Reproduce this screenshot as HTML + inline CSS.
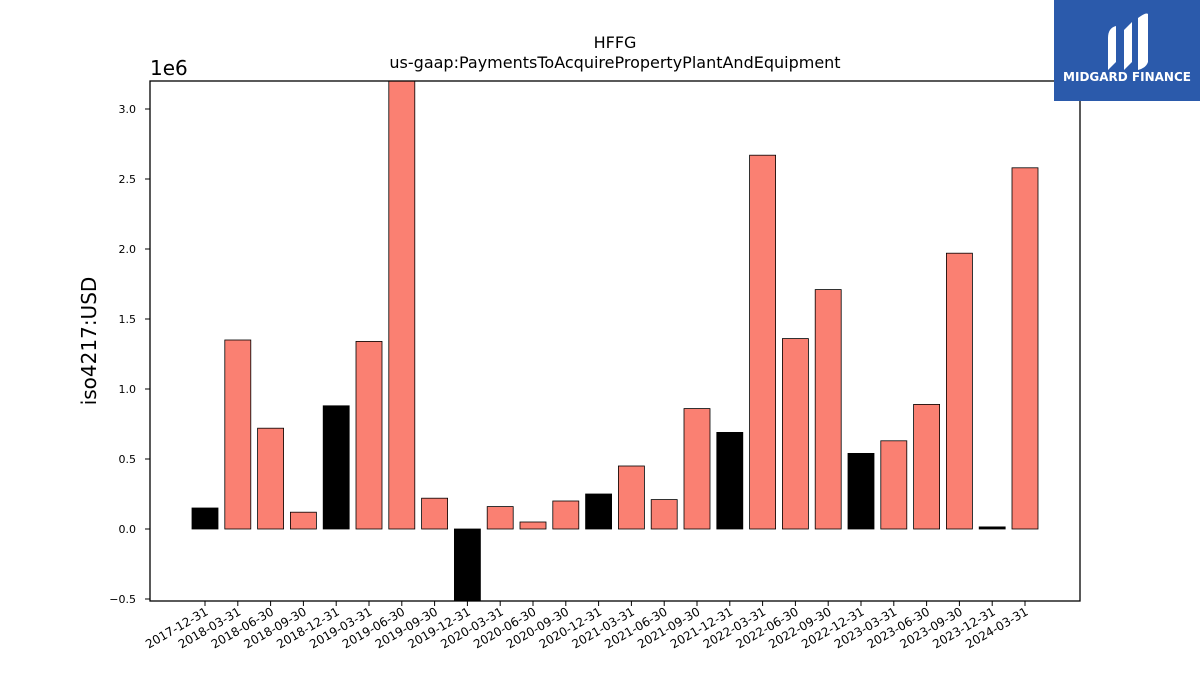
<!DOCTYPE html>
<html><head><meta charset="utf-8"><style>
body{margin:0;background:#fff;font-family:"DejaVu Sans","Liberation Sans",sans-serif}
svg text{font-family:"DejaVu Sans","Liberation Sans",sans-serif}
</style></head><body>
<svg id="c" width="1200" height="675">
<defs><clipPath id="pc"><rect x="150" y="81" width="930" height="520"/></clipPath></defs>
<text x="615" y="48" text-anchor="middle" font-size="16">HFFG</text>
<text x="615" y="68" text-anchor="middle" font-size="16">us-gaap:PaymentsToAcquirePropertyPlantAndEquipment</text>
<text x="150" y="75" font-size="20">1e6</text>
<text transform="translate(96,341) rotate(-90)" text-anchor="middle" font-size="20">iso4217:USD</text>
<g id="bars" clip-path="url(#pc)"></g>
<g id="yt"></g>
<g id="xt"></g>
<rect x="150" y="81" width="930" height="520" fill="none" stroke="#000" stroke-width="1.3"/>
<g>
<rect x="1054" y="0" width="146" height="101" fill="#2b5aab"/>
<path d="M1108 70 L1108 38 Q1108 28 1116 26 L1116 62 Z M1124 70 L1124 30 L1132 22 L1132 62 Z M1138 70 L1138 18 Q1146 12 1148 14 L1148 62 Q1146 68 1138 70 Z" fill="#fff"/>
<text x="1127" y="81" text-anchor="middle" font-size="12" font-weight="bold" fill="#fff">MIDGARD FINANCE</text>
</g>
</svg>
<script>
const categories=["2017-12-31","2018-03-31","2018-06-30","2018-09-30","2018-12-31","2019-03-31","2019-06-30","2019-09-30","2019-12-31","2020-03-31","2020-06-30","2020-09-30","2020-12-31","2021-03-31","2021-06-30","2021-09-30","2021-12-31","2022-03-31","2022-06-30","2022-09-30","2022-12-31","2023-03-31","2023-06-30","2023-09-30","2023-12-31","2024-03-31"];
const values=[0.15,1.35,0.72,0.12,0.88,1.34,3.3,0.22,-0.55,0.16,0.05,0.2,0.25,0.45,0.21,0.86,0.69,2.67,1.36,1.71,0.54,0.63,0.89,1.97,0.015,2.58];
const isQ4=[1,0,0,0,1,0,0,0,1,0,0,0,1,0,0,0,1,0,0,0,1,0,0,0,1,0];
const yTicks=[-0.5,0,0.5,1,1.5,2,2.5,3];
const yTickLabels=["−0.5","0.0","0.5","1.0","1.5","2.0","2.5","3.0"];
const NS="http://www.w3.org/2000/svg";
const y=v=>529-v*140;
const x=i=>205+i*32.8;
const bw=26;
const bars=document.getElementById('bars'),xt=document.getElementById('xt'),yt=document.getElementById('yt');
function mk(t,a,p){const e=document.createElementNS(NS,t);for(const k in a)e.setAttribute(k,a[k]);p.appendChild(e);return e;}
values.forEach((v,i)=>{
 const r=mk('rect',{x:x(i)-bw/2,y:Math.min(y(v),y(0)),width:bw,height:Math.abs(y(v)-y(0)),fill:isQ4[i]?'#000':'#fa8072',stroke:'#000','stroke-width':0.8},bars);
 
 
 const tk=mk('line',{x1:x(i),x2:x(i),y1:601,y2:606,stroke:'#000'},xt);
 
 
 const t=mk('text',{'text-anchor':'end','font-size':12,transform:`translate(${x(i)+4},${614}) rotate(-30)`},xt);
 t.textContent=categories[i];
 
 
});
yTicks.forEach((v,i)=>{
 const l=mk('line',{x1:145,x2:150,y1:y(v),y2:y(v),stroke:'#000'},yt);
 
 
 const t=mk('text',{x:136,y:y(v)+4,'text-anchor':'end','font-size':11},yt);
 t.textContent=yTickLabels[i];
 
 
});
</script>
</body></html>
